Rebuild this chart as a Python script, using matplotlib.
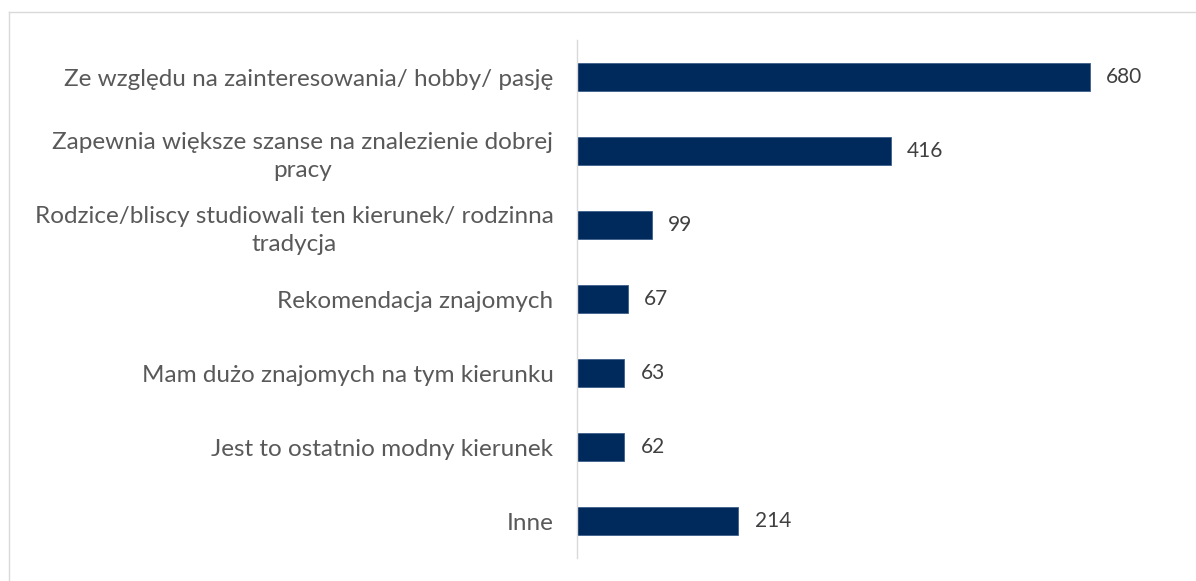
import matplotlib
matplotlib.use('Agg')
import matplotlib.pyplot as plt
from matplotlib.lines import Line2D

# Dane
categories = [
    'Ze względu na zainteresowania/ hobby/ pasję',
    'Zapewnia większe szanse na znalezienie dobrej\npracy',
    'Rodzice/bliscy studiowali ten kierunek/ rodzinna\ntradycja',
    'Rekomendacja znajomych',
    'Mam dużo znajomych na tym kierunku',
    'Jest to ostatnio modny kierunek',
    'Inne',
]
values = [680, 416, 99, 67, 63, 62, 214]

plt.rcParams['font.family'] = ['Lato', 'DejaVu Sans']

fig = plt.figure(figsize=(11.96, 5.81), dpi=100)
ax = fig.add_axes([577 / 1196, 1 - 558 / 581, (1180 - 577) / 1196, (558 - 40) / 581])

y = list(range(len(categories)))
ax.barh(y, values, height=0.365, color='#002a5c', edgecolor='#3d5f8c', linewidth=0.6)

for yi, v in zip(y, values):
    ax.annotate(str(v), (v, yi), xytext=(12, 0), textcoords='offset points',
                va='center', ha='left', fontsize=15, color='#404040')

ax.set_ylim(len(categories) - 0.5, -0.5)
ax.set_xlim(0, 800)
ax.set_yticks(y)
ax.set_yticklabels(categories, fontsize=17.5, color='#595959',
                   multialignment='center', linespacing=1.4)
ax.tick_params(axis='y', length=0, pad=17)
ax.set_xticks([])
for s in ['top', 'right', 'bottom']:
    ax.spines[s].set_visible(False)
ax.spines['left'].set_color('#d9d9d9')
ax.spines['left'].set_linewidth(1)

# ramka wykresu
fig.add_artist(Line2D([8.5 / 1196, 8.5 / 1196], [0, 1 - 11.5 / 581], color='#d9d9d9', lw=1))
fig.add_artist(Line2D([8.5 / 1196, 1], [1 - 11.5 / 581, 1 - 11.5 / 581], color='#d9d9d9', lw=1))

fig.savefig('out.png', dpi=100)
